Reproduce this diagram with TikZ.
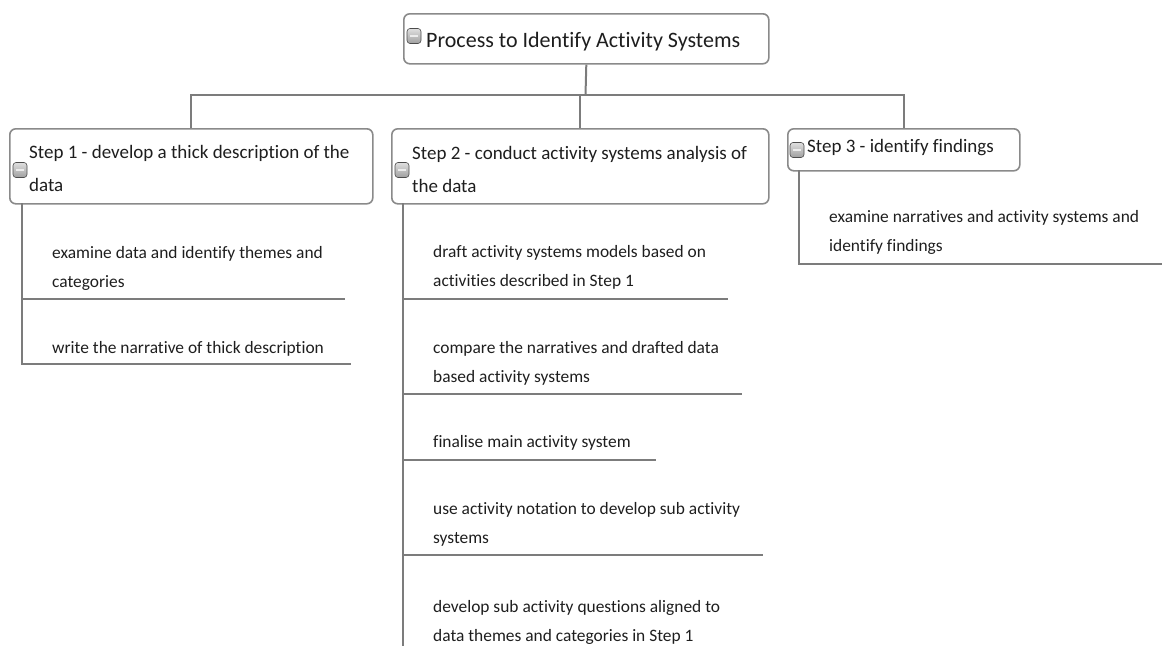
\documentclass[tikz,border=0pt]{standalone}
\usepackage{fontspec}
\setmainfont{Carlito}[Ligatures=NoCommon]
\definecolor{linegray}{HTML}{7C7C7C}
\definecolor{boxgray}{HTML}{8A8A8A}
\definecolor{inkgray}{HTML}{1E1E1E}
% two stacked lines whose reference point is the first baseline
\newcommand\twoline[2]{\vtop{\hbox{#1}\hbox{#2}}}
\begin{document}
\begin{tikzpicture}[x=1pt,y=-1pt,
  topicbox/.style={draw=boxgray, line width=1.6pt, rounded corners=6pt, fill=white,
    anchor=north west, inner sep=0pt},
  link/.style={draw=linegray, line width=2pt},
  rootlabel/.style={anchor=base west, inner sep=0pt, text=inkgray,
    font=\fontsize{22}{26}\selectfont},
  headlabel/.style={anchor=base west, inner sep=0pt, text=inkgray,
    font=\fontsize{19}{33}\selectfont},
  itemlabel/.style={anchor=base west, inner sep=0pt, text=inkgray,
    font=\fontsize{17.4}{29.5}\selectfont},
  toggle/.style={draw=gray!60!black, line width=0.6pt, rounded corners=3pt,
    minimum width=14pt, minimum height=15pt, inner sep=0pt,
    top color=gray!25, bottom color=gray!75,
    path picture={\draw[white!85!gray, line width=1.3pt]
      ([xshift=-4pt]path picture bounding box.center) --
      ([xshift=4pt]path picture bounding box.center);}}
]
\useasboundingbox (0,0) rectangle (1162,646);

% ---- topic boxes ----
\node[topicbox, minimum width=365pt, minimum height=50pt] (root) at (403,13) {};
\node[topicbox, minimum width=363pt, minimum height=75pt] (s1) at (9,128) {};
\node[topicbox, minimum width=377pt, minimum height=75pt] (s2) at (391,128) {};
\node[topicbox, minimum width=232pt, minimum height=42pt] (s3) at (787,128) {};

% ---- collapse toggles ----
\node[toggle] (t0) at (414,36) {};
\node[toggle] (t1) at (20,170) {};
\node[toggle] (t2) at (402,170) {};
\node[toggle] (t3) at (797,150) {};

% ---- topic titles ----
\node[rootlabel] (rootText) at (426,47) {Process to Identify Activity Systems};
\node[headlabel] (s1Text) at (29,158) {\twoline{Step 1 - develop a thick description of the}{data}};
\node[headlabel] (s2Text) at (412,159) {\twoline{Step 2 - conduct activity systems analysis of}{the data}};
\node[headlabel] (s3Text) at (807,152) {Step 3 - identify findings};

% ---- sub-topics ----
\node[itemlabel] (i11) at (52,258) {\twoline{examine data and identify themes and}{categories}};
\node[itemlabel] (i12) at (52,353) {write the narrative of thick description};

\node[itemlabel] (i21) at (433,257) {\twoline{draft activity systems models based on}{activities described in Step 1}};
\node[itemlabel] (i22) at (433,353) {\twoline{compare the narratives and drafted data}{based activity systems}};
\node[itemlabel] (i23) at (433,447) {finalise main activity system};
\node[itemlabel] (i24) at (433,514) {\twoline{use activity notation to develop sub activity}{systems}};
\node[itemlabel] (i25) at (433,612) {\twoline{develop sub activity questions aligned to}{data themes and categories in Step 1}};

\node[itemlabel] (i31) at (829,222) {\twoline{examine narratives and activity systems and}{identify findings}};

% ---- tree connectors ----
\coordinate (bus) at (585.5,95);
\draw[link] (root.south) -- (bus);
\draw[link] (s1.north) -- (s1.north |- bus) -- (s3.north |- bus) -- (s3.north);
\draw[link] (s2.north) -- (s2.north |- bus);

% spines below each step
\coordinate (sp1) at (22,203);
\coordinate (sp2) at (403,203);
\coordinate (sp3) at (799,170);

% underline ends of the sub-topics
\coordinate (u11) at (345,299);
\coordinate (u12) at (351,364);
\coordinate (u21) at (728,299);
\coordinate (u22) at (742,394);
\coordinate (u23) at (656,460);
\coordinate (u24) at (763,555);
\coordinate (u31) at (1162,264);
\coordinate (end2) at (403,646);

\draw[link] (sp1) |- (u11);
\draw[link] (sp1) |- (u12);
\draw[link] (sp2) -- (end2);
\foreach \u in {u21,u22,u23,u24} \draw[link] (sp2) |- (\u);
\draw[link] (sp3) |- (u31);
\end{tikzpicture}
\end{document}
